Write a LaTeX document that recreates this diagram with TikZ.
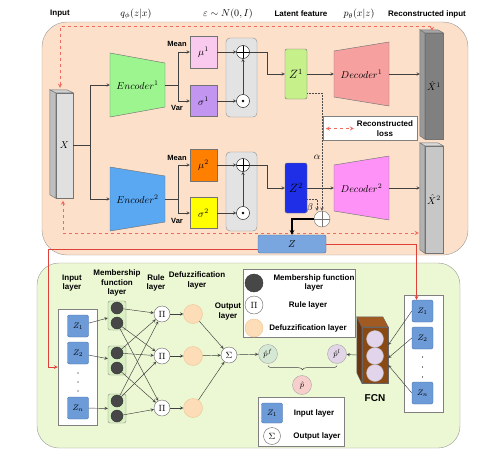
\documentclass[tikz,border=0pt]{standalone}
\usepackage{amsmath}
\usepackage{fontspec}
\setsansfont{Liberation Sans}
\usetikzlibrary{decorations.pathreplacing}

\definecolor{peach}{HTML}{FCE0C9}
\definecolor{lime}{HTML}{ECF7D4}
\definecolor{enccola}{HTML}{9DF590}
\definecolor{enccolb}{HTML}{5AA8F2}
\definecolor{deccola}{HTML}{F7A0A0}
\definecolor{deccolb}{HTML}{FF92F6}
\definecolor{mucola}{HTML}{F9C9EE}
\definecolor{sigcola}{HTML}{C195F0}
\definecolor{mucolb}{HTML}{FF7F00}
\definecolor{sigcolb}{HTML}{FFFF00}
\definecolor{zcola}{HTML}{C6F08A}
\definecolor{zcolb}{HTML}{1F2FE8}
\definecolor{zfcol}{HTML}{7AA6E0}
\definecolor{zbcol}{HTML}{6C9BD8}
\definecolor{zbdraw}{HTML}{4A70A8}
\definecolor{mfcol}{HTML}{D9F0C2}
\definecolor{defcol}{HTML}{FCDDB8}
\definecolor{defdraw}{HTML}{EEC48E}
\definecolor{pfcol}{HTML}{D5E8D4}
\definecolor{plcol}{HTML}{E1D5E7}
\definecolor{phcol}{HTML}{F8CECC}
\definecolor{fcnface}{HTML}{8B4A14}
\definecolor{fcnside}{HTML}{6A3510}
\definecolor{fcntop}{HTML}{A05A22}
\definecolor{fcncirc}{HTML}{E2D4EA}
\definecolor{lossred}{HTML}{F06A5E}
\definecolor{redline}{HTML}{E0403A}

\begin{document}
\begin{tikzpicture}[x=1pt,y=-1pt,>=stealth,
  lbl/.style={font=\sffamily\bfseries\fontsize{8}{9.5}\selectfont,align=center,inner sep=0pt},
  mth/.style={font=\fontsize{10}{12}\selectfont,inner sep=0pt},
  conn/.style={draw=black!75,line width=0.45pt},
  blk/.style={draw=black!55,line width=0.45pt,inner sep=0pt,font=\fontsize{10}{12}\selectfont},
  barside/.style={draw=black!55,line width=0.45pt},
  legbox/.style={draw=black!50,fill=white,line width=0.5pt,inner sep=0pt},
  lossline/.style={draw=lossred,dashed,line width=0.8pt},
  redpath/.style={draw=redline,line width=0.7pt},
  dotline/.style={draw=black!70,densely dotted,line width=0.5pt},
  samp/.style={draw=black!45,fill=black!11,rounded corners=4pt,inner sep=0pt},
  plusc/.style={circle,draw=black,fill=white,minimum size=13pt,inner sep=0pt,
    path picture={\draw (path picture bounding box.north) -- (path picture bounding box.south)
      (path picture bounding box.west) -- (path picture bounding box.east);}},
  dotc/.style={circle,draw=black,fill=white,minimum size=13pt,inner sep=0pt,
    path picture={\fill[black] (path picture bounding box.center) circle (1.4pt);}},
  combc/.style={circle,draw=black!55,fill=white,minimum size=16pt,inner sep=0pt,
    path picture={\draw[black!55] (path picture bounding box.north) -- (path picture bounding box.south)
      (path picture bounding box.west) -- (path picture bounding box.east);}},
  zbox/.style={draw=zbdraw,fill=zbcol,rounded corners=2pt,minimum width=21pt,minimum height=22pt,
    inner sep=0pt,font=\fontsize{8}{9}\selectfont},
  mfbox/.style={draw=black!45,fill=mfcol,rounded corners=2pt,minimum width=18pt,minimum height=29pt,inner sep=0pt},
  mfc/.style={circle,fill=black!72,draw=black!80,minimum size=12pt,inner sep=0pt},
  rulec/.style={circle,draw=black!60,fill=white,minimum size=16pt,inner sep=0pt,font=\fontsize{9}{10}\selectfont},
  defc/.style={circle,draw=defdraw,fill=defcol,minimum size=19pt,inner sep=0pt},
  pc/.style={circle,draw=black!35,minimum size=19pt,inner sep=0pt,font=\fontsize{8}{9}\selectfont},
  fcnc/.style={circle,draw=black!30,fill=fcncirc,minimum size=17pt,inner sep=0pt}]
\useasboundingbox (0,0) rectangle (490,461);

% panels
\draw[draw=black!40,fill=peach,rounded corners=25pt] (42,22) rectangle (468,255);
\draw[draw=black!40,fill=lime,rounded corners=22pt] (37,263) rectangle (460,448);

% titles
\node[lbl] (tin) at (60,14) {Input};
\node[mth] (tq) at (136,14) {$q_\phi(z|x)$};
\node[mth] (teps) at (228,14) {$\varepsilon\sim N(0,I)$};
\node[lbl] (tlat) at (301,14) {Latent feature};
\node[mth] (tp) at (359,14) {$p_\theta(x|z)$};
\node[lbl] (trec) at (427,14) {Reconstructed input};

% input and reconstructed bars
\node[blk,fill=black!12,minimum width=17pt,minimum height=105pt] (X) at (64.5,145.5) {$X$};
\draw[barside,fill=black!25] (X.north west) -- ++(-6,-3) -- ++(0,105) -- (X.south west) -- cycle;
\draw[barside,fill=black!18] (X.north west) -- ++(-6,-3) -- ++(17,0) -- (X.north east) -- cycle;
\node[blk,fill=black!50,minimum width=18pt,minimum height=106pt] (hX1) at (434,86) {$\hat{X}^1$};
\draw[barside,fill=black!40] (hX1.north west) -- ++(-5,-3) -- ++(0,106) -- (hX1.south west) -- cycle;
\draw[barside,fill=black!35] (hX1.north west) -- ++(-5,-3) -- ++(18,0) -- (hX1.north east) -- cycle;
\node[blk,fill=black!22,minimum width=18pt,minimum height=107pt] (hX2) at (434,199.5) {$\hat{X}^2$};
\draw[barside,fill=black!30] (hX2.north west) -- ++(-5,-3) -- ++(0,107) -- (hX2.south west) -- cycle;
\draw[barside,fill=black!15] (hX2.north west) -- ++(-5,-3) -- ++(18,0) -- (hX2.north east) -- cycle;

% encoders
\draw[barside,fill=enccola] (110,53) -- (165,63) -- (165,107) -- (110,117) -- cycle;
\node[mth,minimum width=55pt,minimum height=64pt] (enc1) at (137.5,85) {$Encoder^1$};
\draw[barside,fill=enccolb] (110,167) -- (165,176) -- (165,222) -- (110,231) -- cycle;
\node[mth,minimum width=55pt,minimum height=64pt] (enc2) at (137.5,199) {$Encoder^2$};
\coordinate (xsplit) at (90,145.5);
\draw[conn] (X.east) -- (xsplit);
\draw[conn,->] (xsplit) |- (enc1.west);
\draw[conn,->] (xsplit) |- (enc2.west);

% mean and variance
\node[blk,fill=mucola,minimum width=27pt,minimum height=32pt] (mu1) at (203.5,52) {$\mu^1$};
\node[blk,fill=sigcola,minimum width=27pt,minimum height=31pt] (sig1) at (203.5,101) {$\sigma^1$};
\node[blk,fill=mucolb,minimum width=27pt,minimum height=32pt] (mu2) at (203.5,165) {$\mu^2$};
\node[blk,fill=sigcolb,minimum width=27pt,minimum height=31pt] (sig2) at (203.5,213) {$\sigma^2$};
\coordinate (esplit1) at (178,85);
\coordinate (esplit2) at (178,199);
\draw[conn] (enc1.east) -- (esplit1);
\draw[conn,->] (esplit1) |- (mu1.west);
\draw[conn,->] (esplit1) |- (sig1.west);
\draw[conn] (enc2.east) -- (esplit2);
\draw[conn,->] (esplit2) |- (mu2.west);
\draw[conn,->] (esplit2) |- (sig2.west);
\node[lbl,font=\sffamily\bfseries\fontsize{7.5}{9}\selectfont] (mean1) at (177,44) {Mean};
\node[lbl,font=\sffamily\bfseries\fontsize{7.5}{9}\selectfont] (var1) at (177,108) {Var};
\node[lbl,font=\sffamily\bfseries\fontsize{7.5}{9}\selectfont] (mean2) at (177,158) {Mean};
\node[lbl,font=\sffamily\bfseries\fontsize{7.5}{9}\selectfont] (var2) at (177,221) {Var};

% reparameterisation
\node[samp,minimum width=31pt,minimum height=79pt] (smp1) at (241.5,77.5) {};
\node[samp,minimum width=31pt,minimum height=79pt] (smp2) at (241.5,191.5) {};
\node[plusc] (plus1) at (243,52) {};
\node[dotc] (dot1) at (243,101) {};
\node[plusc] (plus2) at (243,165) {};
\node[dotc] (dot2) at (243,213) {};
\draw[conn,->] (mu1) -- (plus1);
\draw[conn,->] (sig1) -- (dot1);
\draw[conn,->] (dot1) -- (plus1);
\draw[conn,->] (mu2) -- (plus2);
\draw[conn,->] (sig2) -- (dot2);
\draw[conn,->] (dot2) -- (plus2);

% latent features
\node[blk,fill=zcola,rounded corners=2pt,minimum width=22pt,minimum height=50pt,font=\fontsize{12}{14}\selectfont] (Z1) at (296,74) {$Z^1$};
\node[blk,fill=zcolb,rounded corners=2pt,minimum width=22pt,minimum height=50pt,font=\fontsize{12}{14}\selectfont] (Z2) at (296,188) {$Z^2$};
\coordinate (turn1) at (267,52);
\coordinate (turn2) at (267,165);
\draw[conn,->] (plus1) -- (turn1) |- (Z1);
\draw[conn,->] (plus2) -- (turn2) |- (Z2);

% decoders
\draw[barside,fill=deccola] (334,51) -- (389,42) -- (389,106) -- (334,97) -- cycle;
\node[mth,minimum width=55pt,minimum height=64pt] (dec1) at (361.5,74) {$Decoder^1$};
\draw[barside,fill=deccolb] (334,165) -- (389,156) -- (389,220) -- (334,211) -- cycle;
\node[mth,minimum width=55pt,minimum height=64pt] (dec2) at (361.5,188) {$Decoder^2$};
\draw[conn,->] (Z1) -- (dec1);
\draw[conn,->] (Z2) -- (dec2);
\coordinate (side1) at ([xshift=-5pt]hX1.west);
\coordinate (side2) at ([xshift=-5pt]hX2.west);
\draw[conn,->] (dec1.east) -- (dec1.east -| side1);
\draw[conn,->] (dec2.east) -- (dec2.east -| side2);

% reconstruction loss
\draw[lossline,<->] ([xshift=-4.5pt,yshift=5pt]X.north) -- ++(0,-61) -| ([xshift=-2pt,yshift=2pt]hX1.north);
\draw[lossline,<->] ([xshift=-1.5pt,yshift=-2.5pt]X.south) |- ([xshift=-6pt,yshift=-33.5pt]hX2.west);
\node[legbox,minimum width=94pt,minimum height=24pt] (lossbox) at (370,128.5) {};
\node[lbl] (losstxt) at (385,128.5) {Reconstructed\\loss};
\draw[lossline,<->] ([xshift=3pt]lossbox.west) -- ([xshift=-3pt]losstxt.west);

% fusion of the two latent features
\node[combc] (comb) at (322,219) {};
\draw[dotline,->] ([yshift=-19pt]Z1.east) -| (comb.north);
\draw[dotline,->] ([yshift=-11pt]Z2.east) -| ([xshift=-5pt]comb.north);
\node[mth] (alpha) at (317,157) {$\alpha$};
\node[mth] (beta) at (310,208) {$\beta$};
\node[blk,fill=zfcol,draw=zbdraw,rounded corners=2pt,minimum width=68pt,minimum height=18pt] (Zf) at (292,244) {$Z$};
\draw[line width=1.1pt,->] (comb.west) -| (Zf.north);

% links to the two branches below
\node[legbox,minimum width=39pt,minimum height=116pt] (inbox) at (77.5,367) {};
\node[legbox,minimum width=39pt,minimum height=117pt] (inbox2) at (423.5,353.5) {};
\node[zbox] (rz1) at (422.5,311) {$Z_1$};
\node[zbox] (rz2) at (422.5,338) {$Z_2$};
\node[zbox] (rzn) at (422.5,393) {$Z_n$};
\draw[redpath,->] ([yshift=-5pt]Zf.west) -| ([xshift=-9pt]inbox.west) -- (inbox.west);
\draw[redpath,->] (Zf.east) -| ([xshift=-6pt]rz1.north);

% fuzzy network
\node[lbl] (inl) at (72,283) {Input\\layer};
\node[lbl] (mfl) at (117,283) {Membership\\function\\layer};
\node[lbl] (rul) at (156,283) {Rule\\layer};
\node[lbl] (dfl) at (197,280.5) {Defuzzification\\layer};
\node[lbl] (outl) at (228,311.5) {Output\\layer};
\node[zbox] (lz1) at (78,326) {$Z_1$};
\node[zbox] (lz2) at (78,353) {$Z_2$};
\node[zbox] (lzn) at (78,408) {$Z_n$};
\foreach \y in {373,382,391} \fill (78,\y) circle (0.7pt);
\foreach \y in {357,367,377} \fill (422.5,\y) circle (0.7pt);
\foreach \g/\y in {1/315.5,2/360.5,3/408.5} {
  \node[mfbox] (mf\g) at (117,\y) {};
  \node[mfc] (mfa\g) at (117,\y-7.5) {};
  \node[mfc] (mfb\g) at (117,\y+7.5) {};
}
\draw[conn,->] (lz1) -- (mf1);
\draw[conn,->] (lz2) -- (mf2);
\draw[conn,->] (lzn) -- (mf3);
\foreach \i/\y in {1/314,2/356,3/408} {
  \node[rulec] (r\i) at (162,\y) {$\Pi$};
  \node[defc] (d\i) at (193,\y) {};
  \draw[conn,->] (r\i) -- (d\i);
}
\foreach \a/\b in {mfa1/r1,mfb1/r2,mfb1/r3,mfa2/r1,mfa2/r2,mfb2/r3,mfa3/r1,mfa3/r2,mfb3/r3}
  \draw[conn,->] (\a) -- (\b);
\node[rulec] (sum) at (229,355) {$\Sigma$};
\foreach \i in {1,2,3} \draw[conn,->] (d\i) -- (sum);

% predictions
\node[pc,fill=pfcol] (pf) at (268,354) {$\hat{p}^f$};
\node[pc,fill=plcol] (pl) at (337,354) {$\hat{p}^l$};
\node[pc,fill=phcol] (ph) at (302,385) {$\hat{p}$};
\draw[conn,->] (sum) -- (pf);
\coordinate (brl) at ([yshift=-2pt]pf.south);
\coordinate (brr) at ([yshift=-2pt]pl.south);
\draw[conn,decorate,decoration={brace,mirror,amplitude=4pt}] (brl) -- (brr);

% FCN branch
\node[draw=black!60,fill=fcnface,minimum width=26pt,minimum height=56pt,inner sep=0pt] (fcn) at (375,355) {};
\draw[draw=black!60,fill=fcnside] (fcn.north west) -- ++(-5,-10) -- ++(0,56) -- (fcn.south west) -- cycle;
\draw[draw=black!60,fill=fcntop] (fcn.north west) -- ++(-5,-10) -- ++(26,0) -- (fcn.north east) -- cycle;
\foreach \i/\y in {1/339,2/356,3/373} \node[fcnc] (fc\i) at (375,\y) {};
\node[lbl,font=\sffamily\bfseries\fontsize{10}{12}\selectfont] (fcnlbl) at (375,398) {FCN};
\draw[conn,->] (rz1.west) -- ([yshift=10pt]fcn.east);
\draw[conn,->] (rz2.west) -- ([yshift=-3pt]fcn.east);
\draw[conn,->] (rzn.west) -- ([yshift=-10pt]fcn.east);
\draw[conn,->] ([xshift=-5pt]fcn.west) -- (pl);

% legends
\node[legbox,minimum width=112pt,minimum height=68pt] (leg1) at (299,303) {};
\node[mfc,minimum size=18pt] (lgmf) at (254,283) {};
\node[lbl] (lgmft) at (314,283) {Membership function\\layer};
\node[rulec,minimum size=18pt] (lgr) at (254,305) {$\Pi$};
\node[lbl] (lgrt) at (308,305) {Rule layer};
\node[defc,minimum size=18pt] (lgd) at (254,328) {};
\node[lbl] (lgdt) at (308,328) {Defuzzification layer};
\node[legbox,minimum width=86pt,minimum height=49pt] (leg2) at (301,421.5) {};
\node[zbox,minimum height=20pt] (lgz) at (272,413) {$Z_1$};
\node[lbl] (lgzt) at (314,413) {Input layer};
\node[rulec,minimum size=17pt] (lgs) at (272,436) {$\Sigma$};
\node[lbl] (lgst) at (317,436) {Output layer};
\end{tikzpicture}
\end{document}
